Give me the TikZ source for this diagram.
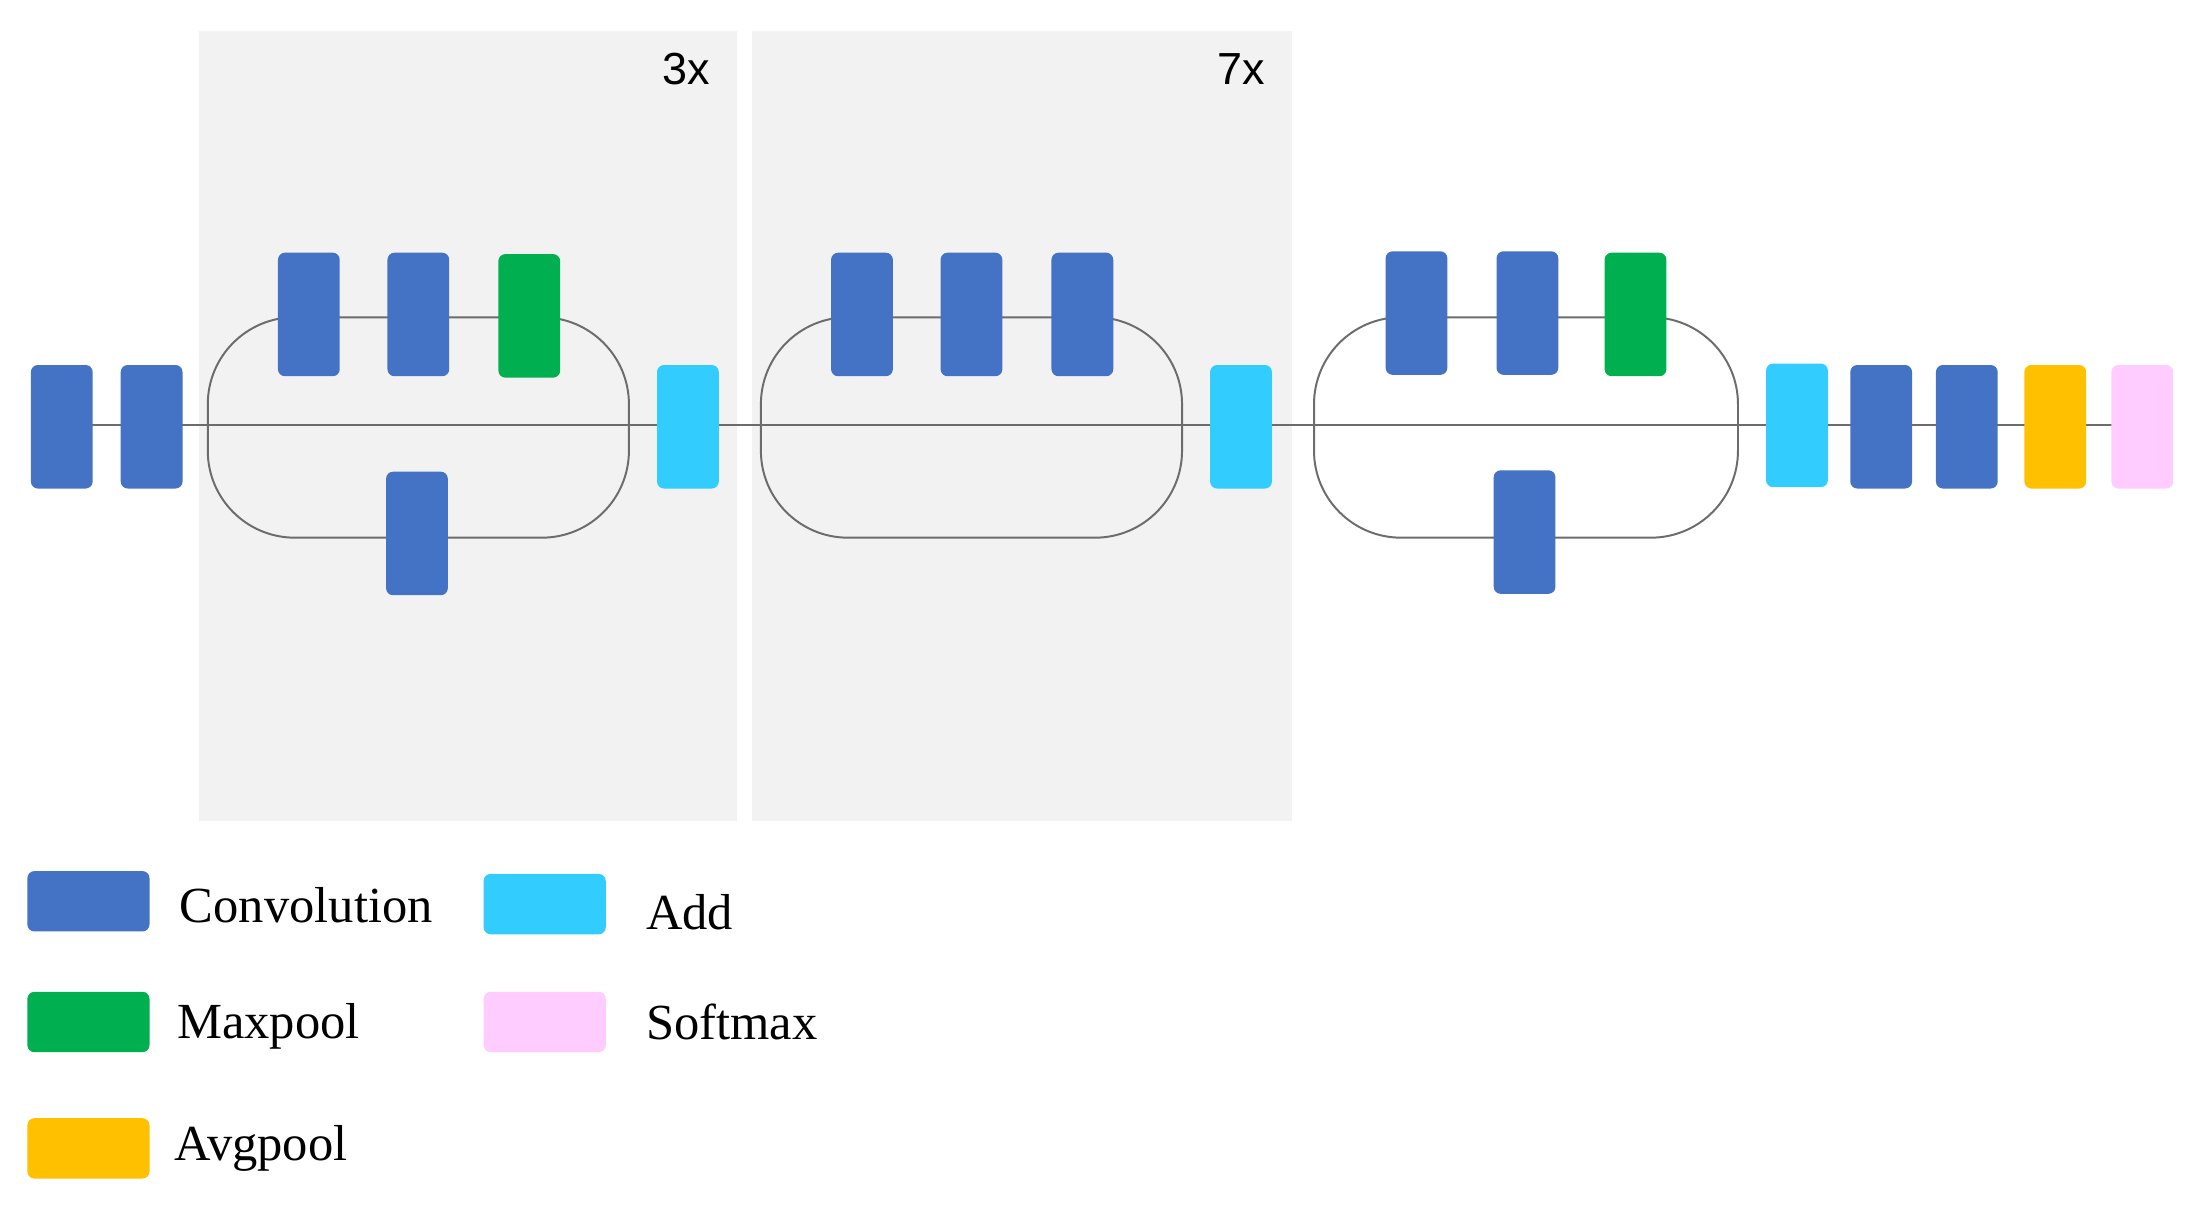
\documentclass[tikz,border=0pt]{standalone}
\usepackage{fontspec}
\setmainfont{Liberation Serif}
\newfontfamily\sansf{Liberation Sans}
\begin{document}
\begin{tikzpicture}[x=1pt,y=-1pt,
  blk/.style={draw=none,rounded corners=5pt,minimum width=44pt,minimum height=88pt,inner sep=0pt},
  conv/.style={blk,fill=cblue}, mp/.style={blk,fill=cgreen}, add/.style={blk,fill=ccyan},
  avg/.style={blk,fill=cyellow}, sm/.style={blk,fill=cpink},
  leg/.style={draw=none,rounded corners=5pt,minimum width=87pt,minimum height=43pt,inner sep=0pt},
  lab/.style={anchor=west,font=\fontsize{36}{40}\selectfont,inner sep=0pt},
  wire/.style={draw=gray!85!black,line width=1.6pt},
  loop/.style={draw=gray!85!black,line width=1.4pt,rounded corners=62pt}]
\definecolor{cblue}{HTML}{4472C4}
\definecolor{cgreen}{HTML}{00B050}
\definecolor{ccyan}{HTML}{33CCFF}
\definecolor{cyellow}{HTML}{FFC000}
\definecolor{cpink}{HTML}{FFCCFF}
\definecolor{pan}{HTML}{F2F2F2}
\useasboundingbox (0,0) rectangle (1560,861);
% panels
\fill[pan] (142,22) rectangle (525,585);
\fill[pan] (536,22) rectangle (920,585);
\node[anchor=north east,font=\sansf\fontsize{32}{36}\selectfont,inner sep=0pt] (t3) at (506,38) {3x};
\node[anchor=north east,font=\sansf\fontsize{32}{36}\selectfont,inner sep=0pt] (t7) at (901,38) {7x};
% coordinates
\coordinate (s) at (44,303);
\coordinate (e) at (1526,303);
\draw[wire] (s) -- (e);
% loops
\draw[loop] (148,226) rectangle (448,383);
\draw[loop] (542,226) rectangle (842,383);
\draw[loop] (936,226) rectangle (1238,383);
% blocks
\node[conv] (b1) at (44,304) {};
\node[conv] (b2) at (108,304) {};
\node[conv] (l1a) at (220,224) {};
\node[conv] (l1b) at (298,224) {};
\node[mp]   (l1c) at (377,225) {};
\node[conv] (l1d) at (297,380) {};
\node[add]  (a1) at (490,304) {};
\node[conv] (l2a) at (614,224) {};
\node[conv] (l2b) at (692,224) {};
\node[conv] (l2c) at (771,224) {};
\node[add]  (a2) at (884,304) {};
\node[conv] (l3a) at (1009,223) {};
\node[conv] (l3b) at (1088,223) {};
\node[mp]   (l3c) at (1165,224) {};
\node[conv] (l3d) at (1086,379) {};
\node[add]  (a3) at (1280,303) {};
\node[conv] (c1) at (1340,304) {};
\node[conv] (c2) at (1401,304) {};
\node[avg]  (av) at (1464,304) {};
\node[sm]   (so) at (1526,304) {};
% legend
\node[leg,fill=cblue] (g1) at (63,642) {};
\node[lab] (g1t) at (128,645) {Convolution};
\node[leg,fill=cgreen] (g2) at (63,728) {};
\node[lab] (g2t) at (126,731) {Maxpool};
\node[leg,fill=cyellow] (g3) at (63,818) {};
\node[lab] (g3t) at (124,818) {Avgpool};
\node[leg,fill=ccyan] (g4) at (388,644) {};
\node[lab] (g4t) at (460,650) {Add};
\node[leg,fill=cpink] (g5) at (388,728) {};
\node[lab] (g5t) at (460,728) {Softmax};
\end{tikzpicture}
\end{document}
